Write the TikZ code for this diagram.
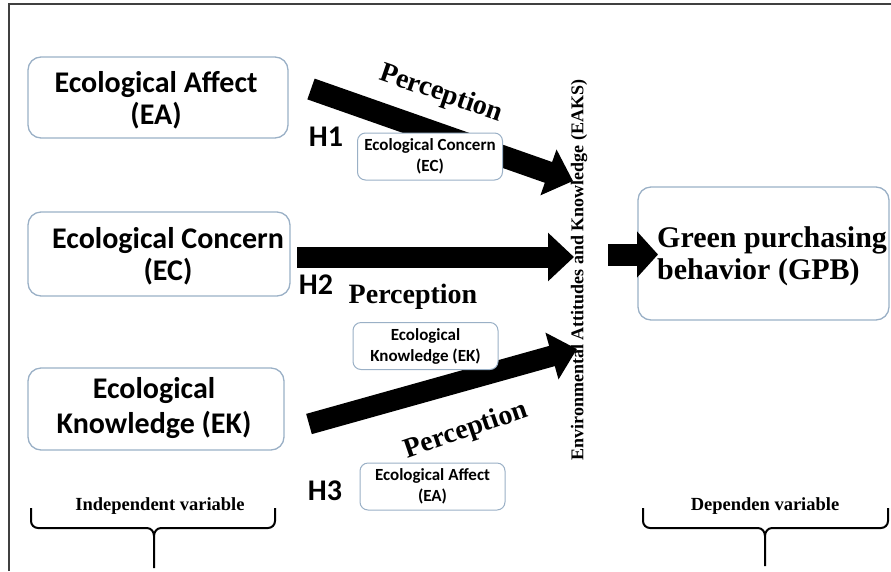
\documentclass[tikz,border=0pt]{standalone}
\usepackage{fontspec}
\setmainfont{Liberation Serif}
\newfontfamily\calib{Carlito}
\usetikzlibrary{arrows.meta}
\definecolor{boxline}{HTML}{9AB0C6}
\tikzset{
  bigbox/.style={draw=boxline, line width=1.3pt, rounded corners=13pt, inner sep=0pt},
  bigtext/.style={align=center, inner sep=0pt, font=\calib\bfseries\fontsize{30}{32}\selectfont},
  smallbox/.style={draw=boxline, fill=white, line width=1pt, rounded corners=8pt, align=center, inner sep=0pt,
     minimum width=145pt, minimum height=47pt, font=\calib\bfseries\fontsize{17}{21}\selectfont},
  hyp/.style={font=\calib\bfseries\fontsize{30}{32}\selectfont, inner sep=0pt},
  percep/.style={font=\bfseries\fontsize{28}{30}\selectfont, inner sep=0pt},
  bracetext/.style={font=\bfseries\fontsize{18.5}{20}\selectfont, inner sep=0pt},
  bigarrow/.style={line width=22pt, -{Triangle[length=26pt 0 0, width=47pt 0 0]}},
  smallarrow/.style={line width=22pt, -{Triangle[length=21pt 0 0, width=45pt 0 0]}},
  bracket/.style={line width=2pt, line join=round},
  frame/.style={line width=1.3pt, draw=black!75}
}
\begin{document}
\begin{tikzpicture}[x=1pt,y=-1pt]
\useasboundingbox (0,0) rectangle (891,571);
\draw[frame] (9,571) -- (9,4) -- (891,4);

% main boxes
\node[bigbox, minimum width=260pt, minimum height=81pt] (eabox) at (158,97.5) {};
\node[bigtext] (ea) at (156,100) {Ecological Affect\\(EA)};
\node[bigbox, minimum width=262pt, minimum height=84pt] (ecbox) at (159,254) {};
\node[bigtext] (ec) at (168,256) {Ecological Concern\\(EC)};
\node[bigbox, minimum width=256pt, minimum height=82pt] (ekbox) at (156,409) {};
\node[bigtext, font=\calib\bfseries\fontsize{30}{35}\selectfont] (ek) at (154,408) {Ecological\\Knowledge (EK)};
\node[bigbox, minimum width=251pt, minimum height=133pt] (gpbbox) at (763.5,253.5) {};
\node[bigtext, align=left, anchor=west, font=\bfseries\fontsize{30}{32}\selectfont] (gpb) at (657,256) {Green purchasing\\behavior (GPB)};

% vertical label
\node[rotate=90, font=\bfseries\fontsize{18}{20}\selectfont, inner sep=0pt] (eaks) at (579,270) {Environmental Attitudes and Knowledge (EAKS)};

% arrows
\coordinate (a1s) at (311,89);
\coordinate (a1e) at (573,181);
\coordinate (a2s) at (297,257);
\coordinate (a2e) at (574,257);
\coordinate (a3s) at (309,424);
\coordinate (a3e) at (577,349);
\coordinate (a4s) at (608,254.5);
\coordinate (a4e) at (658,254.5);
\draw[bigarrow] (a1s) -- (a1e);
\draw[bigarrow, line width=21pt] (a2s) -- (a2e);
\draw[bigarrow, line width=21pt] (a3s) -- (a3e);
\draw[smallarrow] (a4s) -- (a4e);

% small boxes
\node[smallbox] (sec) at (430,156.5) {Ecological Concern\\(EC)};
\node[smallbox] (sek) at (425.5,346) {Ecological\\Knowledge (EK)};
\node[smallbox] (sea) at (432.5,486.5) {Ecological Affect\\(EA)};

% hypotheses
\node[hyp] (h1) at (326,137) {H1};
\node[hyp] (h2) at (316,285) {H2};
\node[hyp] (h3) at (325,491) {H3};

% perception labels
\node[percep, rotate=-19] (p1) at (441,94) {Perception};
\node[percep] (p2) at (413,297) {Perception};
\node[percep, rotate=19] (p3) at (466,431) {Perception};

% brackets
\node[bracetext] (iv) at (160,506) {Independent variable};
\node[bracetext] (dv) at (765,506) {Dependen variable};
\draw[bracket] (31,508) -- (31,521) to[out=-90,in=180] (38,528) -- (147,528) to[out=0,in=90] (154,536) -- (154,568);
\draw[bracket] (154,536) to[out=90,in=180] (161,528) -- (268,528) to[out=0,in=-90] (275,521) -- (275,508);
\draw[bracket] (643,508) -- (643,521) to[out=-90,in=180] (650,528) -- (758,528) to[out=0,in=90] (765,536) -- (765,566);
\draw[bracket] (765,536) to[out=90,in=180] (772,528) -- (881,528) to[out=0,in=-90] (888,521) -- (888,508);
\end{tikzpicture}
\end{document}
